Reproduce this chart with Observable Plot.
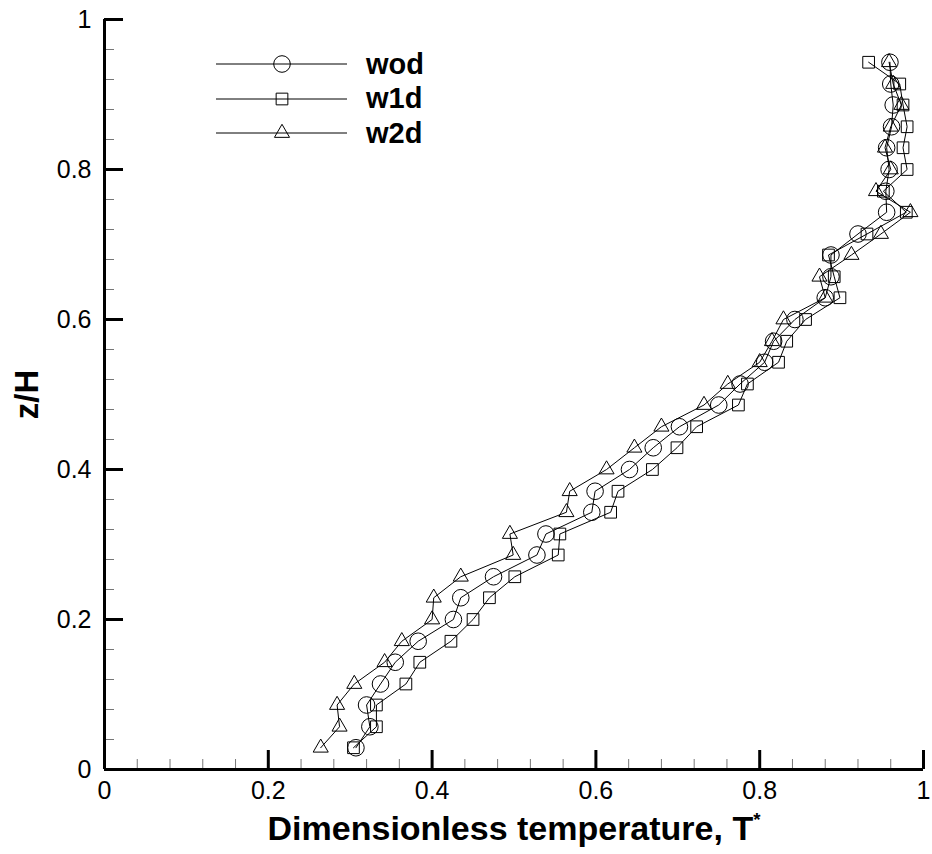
<!DOCTYPE html>
<html><head><meta charset="utf-8">
<script src="https://cdn.jsdelivr.net/npm/d3@7"></script>
<script src="https://cdn.jsdelivr.net/npm/@observablehq/plot@0.6"></script>
<style>
body{margin:0;background:#fff;font-family:"Liberation Sans",Arial,sans-serif;}
#wrap{position:relative;width:932px;height:854px;}
#legend{position:absolute;left:216px;top:47px;}
.row{display:flex;align-items:center;height:34.5px;}
.row span{font-weight:bold;font-size:29px;margin-left:19px;line-height:1;}
.row svg{display:block;overflow:visible;}
</style></head><body><div id="wrap"><div id="legend"></div></div>
<script>
const zLevels = [0.029,0.057,0.086,0.114,0.143,0.171,0.200,0.229,0.257,0.286,0.314,0.343,0.371,0.400,0.429,0.457,0.486,0.514,0.543,0.571,0.600,0.629,0.657,0.686,0.714,0.743,0.771,0.800,0.829,0.857,0.886,0.914,0.943];
const wod = [0.307,0.324,0.320,0.337,0.355,0.383,0.426,0.435,0.475,0.528,0.539,0.595,0.599,0.641,0.670,0.702,0.750,0.776,0.806,0.817,0.843,0.880,0.887,0.887,0.920,0.955,0.954,0.958,0.955,0.961,0.963,0.960,0.959];
const w1d = [0.304,0.332,0.332,0.368,0.385,0.423,0.450,0.470,0.501,0.554,0.556,0.618,0.627,0.669,0.699,0.723,0.774,0.785,0.823,0.833,0.856,0.898,0.891,0.884,0.931,0.979,0.951,0.980,0.975,0.980,0.975,0.971,0.933];
const w2d = [0.264,0.287,0.284,0.305,0.342,0.363,0.400,0.402,0.435,0.499,0.495,0.564,0.568,0.613,0.647,0.680,0.732,0.761,0.800,0.815,0.829,0.880,0.873,0.912,0.948,0.984,0.942,0.960,0.953,0.960,0.973,0.963,0.958];
const seriesNames = ["wod","w1d","w2d"];
const seriesSymbols = ["circle","square","triangle"];
const seriesRadius = [8.3, 6.6, 5.6];
const xMajor = [0,0.2,0.4,0.6,0.8,1];
const xMajorLabels = ["0","0.2","0.4","0.6","0.8","1"];
const xMinor = [0.04,0.08,0.12,0.16,0.24,0.28,0.32,0.36,0.44,0.48,0.52,0.56,0.64,0.68,0.72,0.76,0.84,0.88,0.92,0.96];
const yMajor = [0,0.2,0.4,0.6,0.8,1];
const yMajorLabels = ["0","0.2","0.4","0.6","0.8","1"];
const yMinor = [0.04,0.08,0.12,0.16,0.24,0.28,0.32,0.36,0.44,0.48,0.52,0.56,0.64,0.68,0.72,0.76,0.84,0.88,0.92,0.96];
const xTitle = "Dimensionless temperature, T";
const xTitleSup = "*";
const yTitle = "z/H";

const seriesValues = [wod, w1d, w2d];
const rows = seriesNames.flatMap((name, s) => zLevels.map((z, i) => ({series: name, T: seriesValues[s][i], z})));

const FONT = "'Liberation Sans', Arial, Helvetica, sans-serif";
const chart = Plot.plot({
  width: 932, height: 854,
  marginLeft: 104, marginRight: 9, marginTop: 19, marginBottom: 85,
  x: {domain: [0, 1]},
  y: {domain: [0, 1]},
  style: {fontFamily: FONT, background: "white", color: "black", overflow: "visible"},
  marks: [
    Plot.axisX(xMinor, {tickSize: -10, stroke: "#777", strokeWidth: 1, tickFormat: () => "", label: null}),
    Plot.axisX(xMajor, {tickSize: -19, strokeWidth: 3, tickFormat: () => "", label: null}),
    Plot.axisX(xMajor, {tickSize: 0, tickPadding: 12, fontSize: 25, tickFormat: d => xMajorLabels[xMajor.indexOf(d)], label: null}),
    Plot.axisY(yMinor, {tickSize: -10, stroke: "#777", strokeWidth: 1, tickFormat: () => "", label: null}),
    Plot.axisY(yMajor, {tickSize: -19, strokeWidth: 3, tickFormat: () => "", label: null}),
    Plot.axisY(yMajor, {tickSize: 0, tickPadding: 13, fontSize: 25, tickFormat: d => yMajorLabels[yMajor.indexOf(d)], label: null}),
    Plot.ruleX([0], {strokeWidth: 3}),
    Plot.ruleY([0], {strokeWidth: 3}),
    Plot.line(rows, {x: "T", y: "z", z: "series", stroke: "black", strokeWidth: 1}),
    ...seriesNames.map((name, s) => Plot.dot(rows.filter(d => d.series === name), {
      x: "T", y: "z", symbol: seriesSymbols[s], r: seriesRadius[s], stroke: "black", strokeWidth: 1, fill: "none"
    })),
    Plot.text([xTitle], {frameAnchor: "bottom", dy: 60, textAnchor: "middle", lineAnchor: "middle", fontSize: 34, fontWeight: "bold", text: d => d}),
    Plot.text([yTitle], {frameAnchor: "left", dx: -77, rotate: -90, textAnchor: "middle", lineAnchor: "middle", fontSize: 33, fontWeight: "bold", text: d => d})
  ]
});
document.getElementById("wrap").prepend(chart);

// superscript asterisk on T
d3.select(chart).selectAll("text").each(function() {
  if (this.textContent === xTitle) {
    d3.select(this).append("tspan").attr("font-size", "0.55em").attr("dy", "-0.75em").text(xTitleSup);
  }
});

// legend
const legend = d3.select("#legend");
seriesNames.forEach((name, s) => {
  const row = legend.append("div").attr("class", "row");
  const svg = row.append("svg").attr("width", 131).attr("height", 34);
  svg.append("line").attr("x1", 0).attr("x2", 131).attr("y1", 17).attr("y2", 17).attr("stroke", "black").attr("stroke-width", 1);
  const r = seriesRadius[s];
  const sym = {circle: d3.symbolCircle, square: d3.symbolSquare, triangle: d3.symbolTriangle}[seriesSymbols[s]];
  svg.append("path").attr("transform", "translate(66,17)").attr("d", d3.symbol(sym, Math.PI * r * r)()).attr("fill", "none").attr("stroke", "black");
  row.append("span").text(name);
});
</script></body></html>
